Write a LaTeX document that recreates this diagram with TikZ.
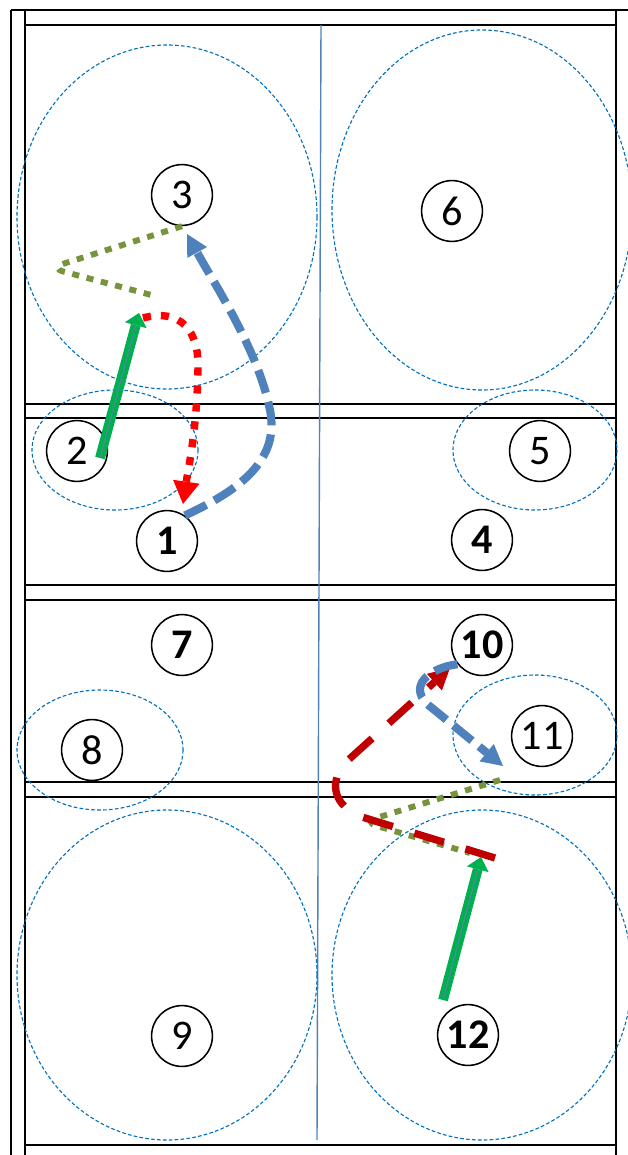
\documentclass[tikz,border=0pt]{standalone}
\usepackage{fontspec}
\setmainfont{Carlito}
\usepackage{tikz}
\usetikzlibrary{arrows.meta}

\definecolor{zoneblue}{HTML}{0070C0}
\definecolor{runblue}{HTML}{4F81BD}
\definecolor{passred}{HTML}{FF0000}
\definecolor{darkred}{HTML}{C00000}
\definecolor{rungreen}{HTML}{00B050}
\definecolor{olivegreen}{HTML}{77933C}

\begin{document}
\begin{tikzpicture}[
        x=0.025cm,y=-0.025cm,
        player/.style={circle,draw,line width=1.1pt,minimum size=1.52cm,inner sep=0pt,font=\fontsize{30}{30}\selectfont},
        playerb/.style={player,font=\fontsize{30}{30}\selectfont\bfseries},
        zone/.style={draw=zoneblue,line width=0.8pt,dash pattern=on 2.6pt off 1.6pt},
        wall/.style={line width=1.3pt},
        midline/.style={draw=runblue,line width=1pt},
        dribble/.style={draw=rungreen,line width=7pt,-{Triangle[width=16pt,length=9pt,line width=0pt]}},
        dribblecore/.style={draw=runblue!70!gray,line width=0.7pt,shorten >=9pt},
        cutblue/.style={draw=runblue,line width=5.8pt,dash pattern=on 17pt off 6.5pt,-{Triangle[width=16pt,length=15pt,line width=0pt]}},
        passdot/.style={draw=passred,line width=5.3pt,dash pattern=on 5.8pt off 7pt,-{Triangle[width=19pt,length=16pt,line width=0pt]}},
        passdash/.style={draw=darkred,line width=5.2pt,dash pattern=on 22pt off 16pt,-{Triangle[width=16pt,length=15pt,line width=0pt]}},
        screen/.style={draw=olivegreen,line width=4.2pt,dash pattern=on 5pt off 5.5pt,rounded corners=10pt},
    ]
    \useasboundingbox (0,0) rectangle (628,1155);
    \clip (0,0) rectangle (628,1155);

    % === court lines ===
    \draw[wall] (11,10) -- (628,10);
    \draw[wall] (11,10) -- (11,1155);
    \draw[wall] (25,10) -- (25,1155);
    \draw[wall] (616,10) -- (616,1155);
    \foreach \y in {25,404,418,585,600,782,797,1145}
        \draw[wall] (25,\y) -- (616,\y);
    \draw[midline] (321,25) -- (317,1140);

    % === zones ===
    \draw[zone] (167,217) ellipse (150 and 172);
    \draw[zone] (482,210) ellipse (150 and 180);
    \draw[zone] (115,450) ellipse (83 and 60);
    \draw[zone] (535,450) ellipse (82 and 60);
    \draw[zone] (100,750) ellipse (83 and 60);
    \draw[zone] (535,735) ellipse (82 and 60);
    \draw[zone] (167,975) ellipse (150 and 165);
    \draw[zone] (482,975) ellipse (150 and 165);

    % === players ===
    \node[playerb] (pl1) at (167,541) {1};
    \node[player]  (pl2) at (77,451) {2};
    \node[player]  (pl3) at (182,195) {3};
    \node[playerb] (pl4) at (482,540) {4};
    \node[player]  (pl5) at (540,451) {5};
    \node[player]  (pl6) at (452,211) {6};
    \node[playerb] (pl7) at (182,645) {7};
    \node[player]  (pl8) at (92,750) {8};
    \node[player]  (pl9) at (182,1036) {9};
    \node[playerb] (pl10) at (482,645) {10};
    \node[player]  (pl11) at (542,736) {11};
    \node[playerb] (pl12) at (468,1035) {12};

    % === top half ===
    \coordinate (d2s) at (100,458);
    \coordinate (d2e) at (139,313);
    \coordinate (p1s) at (143,318);
    \coordinate (p1e) at (183,504);
    \coordinate (c3e) at (187,234);
    \coordinate (s3e) at (155,296);
    \draw[screen] (pl3.south) -- (50,268) -- (s3e);
    \draw[passdot] (p1s) .. controls (180,308) and (199,330) .. (198,368)
        .. controls (197,430) and (188,470) .. (p1e);
    \draw[cutblue] (pl1.55) .. controls (240,490) and (280,460) .. (270,410)
        .. controls (258,350) and (215,285) .. (c3e);
    \draw[dribble] (d2s) -- (d2e);
    \draw[dribblecore] (d2s) -- (d2e);

    % === bottom half ===
    \coordinate (d12s) at (443,1000);
    \coordinate (d12e) at (481,857);
    \coordinate (s11s) at (500,780);
    \coordinate (s11e) at (470,853);
    \coordinate (p10s) at (495,858);
    \coordinate (p10e) at (450,668);
    \coordinate (c11e) at (503,766);
    \draw[screen] (s11s) -- (363,822) -- (s11e);
    \draw[passdash] (p10s) -- (362,817) .. controls (333,806) and (328,782) .. (346,762) -- (p10e);
    \draw[cutblue] (pl10.218) .. controls (428,668) and (405,688) .. (432,708) -- (c11e);
    \draw[dribble] (d12s) -- (d12e);
    \draw[dribblecore] (d12s) -- (d12e);
\end{tikzpicture}
\end{document}
